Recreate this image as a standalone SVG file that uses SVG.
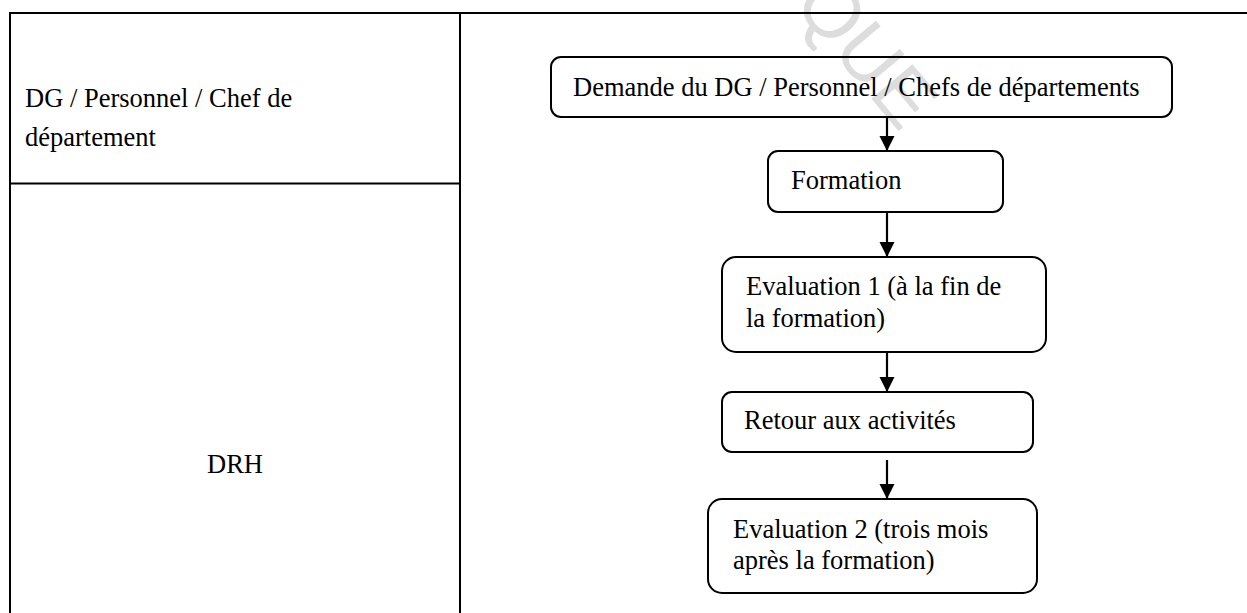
<svg xmlns="http://www.w3.org/2000/svg" width="1247" height="613" viewBox="0 0 1247 613">
  <style>
    .grid { stroke: #000; stroke-width: 2; fill: none; }
    .box { stroke: #000; stroke-width: 2; fill: none; }
    .lbl { font-family: "Liberation Serif", "Times New Roman", serif; font-size: 26.5px; fill: #000; }
    .wm { font-family: "Liberation Sans", Arial, sans-serif; font-size: 78px; fill: #dddddd; }
    .conn { stroke: #000; stroke-width: 2.2; fill: none; }
  </style>
  <defs>
    <marker id="arrow" markerWidth="7" markerHeight="7" refX="7" refY="3.5" orient="auto" markerUnits="strokeWidth">
      <path d="M0,0 L7,3.5 L0,7 Z" fill="#000"/>
    </marker>
  </defs>
  <rect width="1247" height="613" fill="#fff"/>

  <!-- faint background stamp -->
  <text class="wm" transform="translate(792,4) rotate(50)">QUE</text>

  <!-- swimlane table -->
  <g id="table">
    <path class="grid" d="M10,614 V13 H1248"/>
    <line class="grid" x1="460" y1="13" x2="460" y2="614"/>
    <line class="grid" x1="10" y1="183.5" x2="460" y2="183.5"/>
  </g>

  <g id="lane-dg">
    <text class="lbl" x="25" y="107">DG / Personnel / Chef de</text>
    <text class="lbl" x="25" y="146">département</text>
  </g>
  <g id="lane-drh">
    <text class="lbl" x="235" y="473" text-anchor="middle">DRH</text>
  </g>

  <!-- connectors -->
  <g id="connectors">
    <line class="conn" x1="887" y1="117" x2="887" y2="151" marker-end="url(#arrow)"/>
    <line class="conn" x1="887" y1="212" x2="887" y2="257" marker-end="url(#arrow)"/>
    <line class="conn" x1="887" y1="352" x2="887" y2="392" marker-end="url(#arrow)"/>
    <line class="conn" x1="887" y1="460" x2="887" y2="499" marker-end="url(#arrow)"/>
  </g>

  <g id="node-demande">
    <rect class="box" x="551" y="57" width="621" height="60" rx="10"/>
    <text class="lbl" x="573" y="96">Demande du DG / Personnel / Chefs de départements</text>
  </g>
  <g id="node-formation">
    <rect class="box" x="768" y="151" width="235" height="61" rx="10"/>
    <text class="lbl" x="791" y="189">Formation</text>
  </g>
  <g id="node-evaluation1">
    <rect class="box" x="722" y="257" width="324" height="95" rx="14"/>
    <text class="lbl" x="746" y="295">Evaluation 1 (à la fin de</text>
    <text class="lbl" x="746" y="327">la formation)</text>
  </g>
  <g id="node-retour">
    <rect class="box" x="722" y="392" width="311" height="60" rx="10"/>
    <text class="lbl" x="744" y="429">Retour aux activités</text>
  </g>
  <g id="node-evaluation2">
    <rect class="box" x="708" y="499" width="329" height="94" rx="14"/>
    <text class="lbl" x="733" y="538">Evaluation 2 (trois mois</text>
    <text class="lbl" x="733" y="569">après la formation)</text>
  </g>
</svg>
